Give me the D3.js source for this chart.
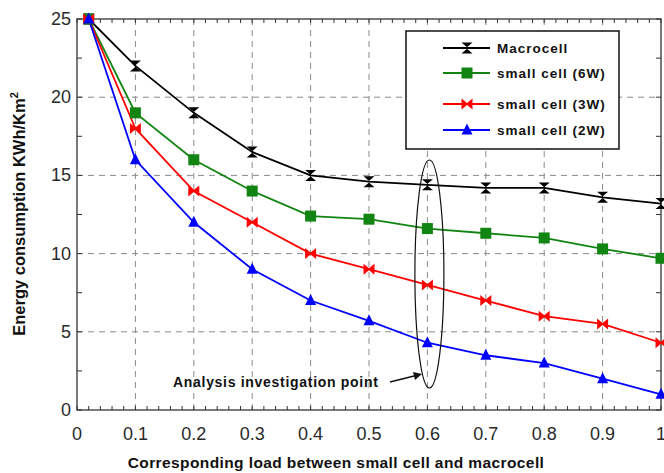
<!DOCTYPE html>
<html>
<head>
<meta charset="utf-8">
<script src="https://cdn.jsdelivr.net/npm/d3@7"></script>
<style>
  body{margin:0;background:#fff;}
  svg{display:block;font-family:"Liberation Sans",Arial,sans-serif;}
  .tick-lbl{font-size:18px;fill:#2a2a2a;}
  .ttl{font-weight:bold;fill:#111;}
</style>
</head>
<body>
<svg width="664" height="473"></svg>
<script>
const svg=d3.select('svg');
const width=+svg.attr('width');
const height=+svg.attr('height');
const margin={top:19,right:3,bottom:63,left:77};

/* data */
const loads=[0.02,0.1,0.2,0.3,0.4,0.5,0.6,0.7,0.8,0.9,1];
const macrocell=[25,22,19,16.5,15,14.6,14.4,14.2,14.2,13.6,13.2];
const small6W=[25,19,16,14,12.4,12.2,11.6,11.3,11,10.3,9.7];
const small3W=[25,18,14,12,10,9,8,7,6,5.5,4.3];
const small2W=[25,16,12,9,7,5.7,4.3,3.5,3,2,1];
const seriesNames=['Macrocell','small cell (6W)','small cell (3W)','small cell (2W)'];
const xTicks=[0,0.1,0.2,0.3,0.4,0.5,0.6,0.7,0.8,0.9,1];
const yTicks=[0,5,10,15,20,25];

const colors=['#000000','#118411','#ff0000','#0000ff'];
const shapes=['hourglass','square','bowtie','triangle'];
const series=[macrocell,small6W,small3W,small2W].map((v,i)=>({
  name:seriesNames[i],color:colors[i],shape:shapes[i],
  pts:v.map((y,j)=>[loads[j],y])
}));

const x=d3.scaleLinear().domain([0,1]).range([margin.left,width-margin.right]);
const y=d3.scaleLinear().domain([0,25]).range([height-margin.bottom,margin.top]);
const x0=x(0),x1=x(1),y0=y(0),y1=y(25);

// grid
const grid=svg.append('g').attr('stroke','#8a8a8a').attr('stroke-width',1).attr('stroke-dasharray','6,5');
grid.selectAll('.gx').data(xTicks.slice(1,-1)).enter().append('line')
  .attr('x1',d=>x(d)).attr('x2',d=>x(d)).attr('y1',y0).attr('y2',y1);
grid.selectAll('.gy').data(yTicks.slice(1,-1)).enter().append('line')
  .attr('y1',d=>y(d)).attr('y2',d=>y(d)).attr('x1',x0).attr('x2',x1);

// frame with inward ticks
const minorX=d3.range(0,1.0001,0.02);
const minorY=d3.range(0,25.001,2.5);
const fr=svg.append('g').attr('stroke','#333').attr('stroke-width',1);
fr.append('rect').attr('x',x0).attr('y',y1).attr('width',x1-x0).attr('height',y0-y1).attr('fill','none').attr('stroke-width',1.3);
minorX.forEach(v=>{
  fr.append('line').attr('x1',x(v)).attr('x2',x(v)).attr('y1',y0).attr('y2',y0-4);
  fr.append('line').attr('x1',x(v)).attr('x2',x(v)).attr('y1',y1).attr('y2',y1+4);
});
minorY.forEach(v=>{
  fr.append('line').attr('y1',y(v)).attr('y2',y(v)).attr('x1',x0).attr('x2',x0+5);
  fr.append('line').attr('y1',y(v)).attr('y2',y(v)).attr('x1',x1).attr('x2',x1-5);
});

// tick labels
svg.selectAll('.xl').data(xTicks).enter().append('text').attr('class','tick-lbl')
  .attr('x',d=>x(d)).attr('y',y0+30).attr('text-anchor','middle').text(d=>String(d));
svg.selectAll('.yl').data(yTicks).enter().append('text').attr('class','tick-lbl')
  .attr('x',x0-6).attr('y',d=>y(d)+6).attr('text-anchor','end').text(d=>d);

// lines
const line=d3.line().x(d=>x(d[0])).y(d=>y(d[1]));
svg.selectAll('.series').data(series).enter().append('path')
  .attr('d',d=>line(d.pts)).attr('fill','none').attr('stroke',d=>d.color).attr('stroke-width',1.8);

function marker(g,shape,color,cx,cy){
  const s=5.5;
  let p;
  if(shape==='square'){
    g.append('rect').attr('x',cx-s).attr('y',cy-s).attr('width',2*s).attr('height',2*s).attr('fill',color);return;
  }
  if(shape==='triangle') p=[[cx,cy-s-1],[cx+s,cy+s-1],[cx-s,cy+s-1]];
  if(shape==='hourglass') p=[[cx-s,cy-s],[cx+s,cy-s],[cx-1,cy],[cx+s,cy+s],[cx-s,cy+s],[cx+1,cy]];
  if(shape==='bowtie') p=[[cx-s,cy-s],[cx,cy-1],[cx+s,cy-s],[cx+s,cy+s],[cx,cy+1],[cx-s,cy+s]];
  g.append('polygon').attr('points',p.map(q=>q.join(',')).join(' ')).attr('fill',color);
}
const mk=svg.append('g');
series.forEach(s=>s.pts.forEach(d=>marker(mk,s.shape,s.color,x(d[0]),y(d[1]))));

// legend
const lg=svg.append('g');
lg.append('rect').attr('x',406).attr('y',31).attr('width',213).attr('height',118)
  .attr('fill','#fff').attr('stroke','#111').attr('stroke-width',1.5);
const rowY=[48,73,104,130];
series.forEach((s,i)=>{
  lg.append('line').attr('x1',443).attr('x2',490).attr('y1',rowY[i]).attr('y2',rowY[i])
    .attr('stroke',s.color).attr('stroke-width',1.8);
  marker(lg,s.shape,s.color,467,rowY[i]);
  lg.append('text').attr('class','ttl').attr('x',497).attr('y',rowY[i]+5)
    .attr('font-size',13.5).attr('letter-spacing',1).text(s.name);
});

// annotation: ellipse and arrow
svg.append('ellipse').attr('cx',x(0.6)+2).attr('cy',274).attr('rx',14.5).attr('ry',114)
  .attr('fill','none').attr('stroke','#111').attr('stroke-width',1.2);
svg.append('text').attr('class','ttl').attr('x',173).attr('y',387).attr('font-size',14)
  .attr('letter-spacing',0.7).text('Analysis investigation point');
svg.append('path').attr('d','M390,382 L418,375').attr('stroke','#111').attr('stroke-width',1.3).attr('fill','none');
svg.append('polygon').attr('points','422,374 413,372 415,380').attr('fill','#111');

// axis titles
svg.append('text').attr('class','ttl').attr('x',336).attr('y',468)
  .attr('text-anchor','middle').attr('font-size',15.5).attr('letter-spacing',0.4)
  .text('Corresponding load between small cell and macrocell');
const yt=svg.append('text').attr('class','ttl').attr('font-size',16.5).attr('text-anchor','middle')
  .attr('transform','translate(25,214) rotate(-90)');
yt.append('tspan').text('Energy consumption KWh/Km');
yt.append('tspan').attr('dy',-7).attr('font-size',11).text('2');
</script>
</body>
</html>
